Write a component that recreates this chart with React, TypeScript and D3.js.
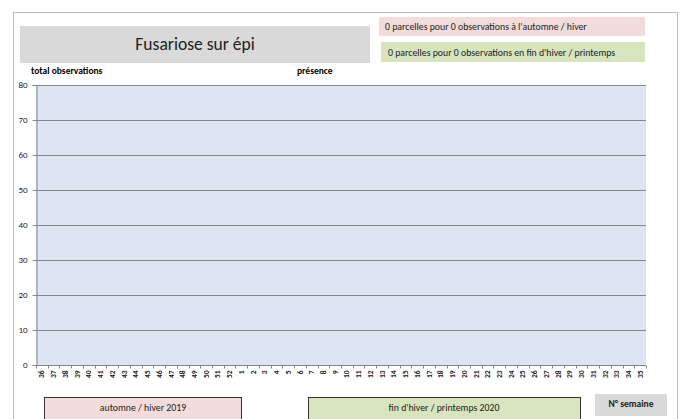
import React, { useEffect, useRef } from 'react';
import * as d3 from 'd3';

// weeks 36..52 of 2019 then 1..35 of 2020
const weeks = [
  '36', '37', '38', '39', '40', '41', '42', '43', '44', '45', '46', '47', '48', '49', '50', '51', '52',
  '1', '2', '3', '4', '5', '6', '7', '8', '9', '10', '11', '12', '13', '14', '15', '16', '17', '18', '19',
  '20', '21', '22', '23', '24', '25', '26', '27', '28', '29', '30', '31', '32', '33', '34', '35',
];
// no observations recorded this season
const totalObservations = weeks.map(() => 0);
const presence = weeks.map(() => 0);
const yTicks = [0, 10, 20, 30, 40, 50, 60, 70, 80];

const title = 'Fusariose sur épi';
const legendAutumn = "0 parcelles pour 0 observations à l'automne / hiver";
const legendSpring = "0 parcelles pour 0 observations en fin d'hiver / printemps";

const FONT = "Carlito, Lato, 'Liberation Sans', sans-serif";

const App = () => {
  const ref = useRef<SVGSVGElement>(null);

  useEffect(() => {
    const svg = d3.select(ref.current);
    svg.selectAll('*').remove();

    const plot = { left: 36, right: 646, top: 85, bottom: 365 };

    // outer frame
    svg.append('rect').attr('x', 13.5).attr('y', 12.5).attr('width', 664).attr('height', 420)
      .attr('fill', 'white').attr('stroke', '#bfbfbf');

    // title box
    svg.append('rect').attr('x', 20).attr('y', 26).attr('width', 350).attr('height', 37).attr('fill', '#d9d9d9');
    svg.append('text').attr('x', 195).attr('y', 50).attr('text-anchor', 'middle')
      .style('font-family', FONT).style('font-size', '17.5px').attr('fill', '#222').text(title);

    // legend boxes
    svg.append('rect').attr('x', 379).attr('y', 17).attr('width', 266).attr('height', 19).attr('fill', '#f2dcdb');
    svg.append('text').attr('x', 385).attr('y', 30).style('font-family', FONT).style('font-size', '9.8px')
      .attr('fill', '#222').text(legendAutumn);
    svg.append('rect').attr('x', 381).attr('y', 42).attr('width', 264).attr('height', 20).attr('fill', '#d7e4bd');
    svg.append('text').attr('x', 388).attr('y', 56).style('font-family', FONT).style('font-size', '9.8px')
      .attr('fill', '#222').text(legendSpring);

    svg.append('text').attr('x', 31).attr('y', 74).style('font-family', FONT).style('font-size', '9.5px')
      .style('font-weight', 'bold').text('total observations');
    svg.append('text').attr('x', 297).attr('y', 74).style('font-family', FONT).style('font-size', '9.5px')
      .style('font-weight', 'bold').text('présence');

    const x = d3.scaleBand().domain(weeks).range([plot.left, plot.right]);
    const y = d3.scaleLinear().domain([0, 80]).range([plot.bottom, plot.top]);

    svg.append('rect').attr('x', plot.left).attr('y', plot.top)
      .attr('width', plot.right - plot.left).attr('height', plot.bottom - plot.top).attr('fill', '#dce6f2');

    // grid
    svg.append('g').selectAll('line').data(yTicks.filter((t) => t > 0)).enter().append('line')
      .attr('x1', plot.left).attr('x2', plot.right)
      .attr('y1', (d) => Math.round(y(d)) + 0.5).attr('y2', (d) => Math.round(y(d)) + 0.5)
      .attr('stroke', '#868686');

    // bars (empty season)
    svg.append('g').selectAll('rect').data(weeks).enter().append('rect')
      .attr('x', (d) => x(d)! + 2).attr('width', x.bandwidth() - 4)
      .attr('y', (d, i) => y(totalObservations[i])).attr('height', (d, i) => y(0) - y(totalObservations[i]))
      .attr('fill', '#4f81bd');
    svg.append('g').selectAll('rect').data(weeks).enter().append('rect')
      .attr('x', (d) => x(d)! + 3).attr('width', x.bandwidth() - 6)
      .attr('y', (d, i) => y(presence[i])).attr('height', (d, i) => y(0) - y(presence[i]))
      .attr('fill', '#c0504d');

    // y axis
    const yAxis = svg.append('g').attr('transform', `translate(${plot.left + 0.5},0)`)
      .call(d3.axisLeft(y).tickValues(yTicks).tickSize(4).tickPadding(5));
    yAxis.select('path').attr('stroke', '#868686');
    yAxis.selectAll('.tick line').attr('stroke', '#868686');
    yAxis.selectAll('.tick text').style('font-family', FONT).style('font-size', '9px').attr('fill', '#222');

    // x axis
    const xAxisG = svg.append('g').attr('transform', `translate(0,${plot.bottom + 0.5})`);
    xAxisG.append('line').attr('x1', plot.left).attr('x2', plot.right).attr('stroke', '#868686');
    xAxisG.selectAll('line.tk').data([...weeks, null]).enter().append('line').attr('class', 'tk')
      .attr('x1', (d, i) => Math.round(plot.left + i * x.step()) + 0.5)
      .attr('x2', (d, i) => Math.round(plot.left + i * x.step()) + 0.5)
      .attr('y1', 0).attr('y2', 3).attr('stroke', '#868686');
    xAxisG.selectAll('text').data(weeks).enter().append('text')
      .attr('transform', (d) => `translate(${x(d)! + x.bandwidth() / 2},5) rotate(-90)`)
      .attr('text-anchor', 'end').attr('dy', '0.35em')
      .style('font-family', FONT).style('font-size', '7.5px').style('font-weight', 'bold').attr('fill', '#222')
      .text((d) => d);

    // bottom period boxes
    svg.append('rect').attr('x', 44.5).attr('y', 397.5).attr('width', 197).attr('height', 22)
      .attr('fill', '#f2dcdb').attr('stroke', '#333');
    svg.append('text').attr('x', 143).attr('y', 411).attr('text-anchor', 'middle').style('font-family', FONT)
      .style('font-size', '9.8px').attr('fill', '#222').text('automne / hiver 2019');
    svg.append('rect').attr('x', 308.5).attr('y', 397.5).attr('width', 272).attr('height', 22)
      .attr('fill', '#d7e4bd').attr('stroke', '#333');
    svg.append('text').attr('x', 444).attr('y', 411).attr('text-anchor', 'middle').style('font-family', FONT)
      .style('font-size', '9.8px').attr('fill', '#222').text("fin d'hiver / printemps 2020");
    svg.append('rect').attr('x', 595).attr('y', 394).attr('width', 72).attr('height', 22).attr('fill', '#d9d9d9');
    svg.append('text').attr('x', 631).attr('y', 407).attr('text-anchor', 'middle').style('font-family', FONT)
      .style('font-size', '9.5px').style('font-weight', 'bold').attr('fill', '#222').text('N° semaine');
  }, []);

  return (
    <svg ref={ref} width={682} height={419} style={{ position: 'absolute', left: 0, top: 0, display: 'block' }} />
  );
};

export default App;
